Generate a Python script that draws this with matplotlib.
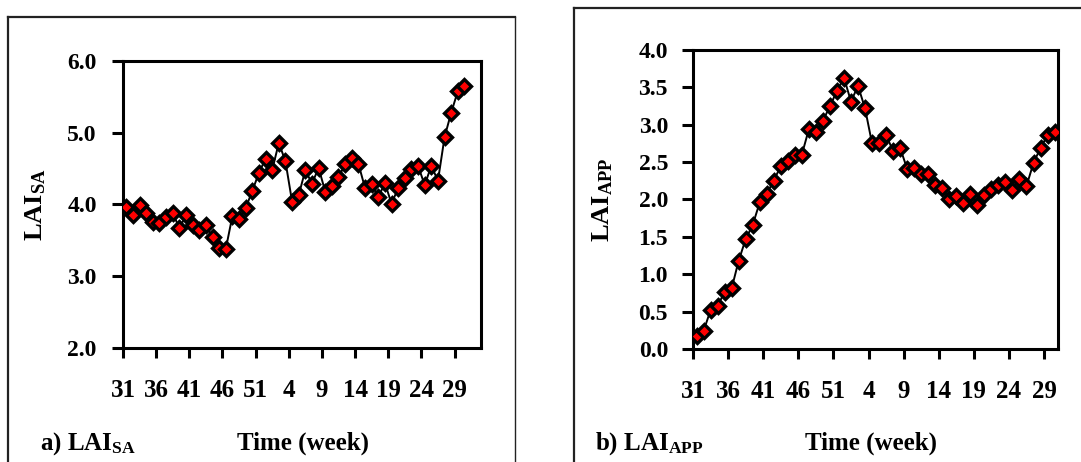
import numpy as np
import matplotlib
matplotlib.use('Agg')
import matplotlib.pyplot as plt
from matplotlib.lines import Line2D

plt.rcParams['font.family'] = ['Liberation Serif', 'DejaVu Serif']
plt.rcParams['font.weight'] = 'bold'
plt.rcParams['mathtext.fontset'] = 'custom'
plt.rcParams['mathtext.rm'] = 'Liberation Serif:bold'
plt.rcParams['mathtext.it'] = 'Liberation Serif:bold'
plt.rcParams['mathtext.bf'] = 'Liberation Serif:bold'

# weekly series, starting at week 31
lai_sa = [3.97, 3.85, 3.99, 3.88, 3.76, 3.74, 3.83, 3.88, 3.67, 3.85,
          3.71, 3.65, 3.71, 3.54, 3.40, 3.38, 3.84, 3.80, 3.95, 4.19,
          4.44, 4.64, 4.48, 4.86, 4.60, 4.04, 4.13, 4.48, 4.29, 4.51,
          4.18, 4.26, 4.38, 4.56, 4.65, 4.57, 4.23, 4.29, 4.10, 4.30,
          4.01, 4.23, 4.37, 4.50, 4.54, 4.27, 4.54, 4.33, 4.94, 5.28,
          5.58, 5.65]
lai_app = [0.17, 0.24, 0.52, 0.58, 0.76, 0.81, 1.18, 1.47, 1.66, 1.96,
           2.08, 2.25, 2.45, 2.52, 2.60, 2.60, 2.94, 2.90, 3.05, 3.25,
           3.45, 3.63, 3.31, 3.52, 3.22, 2.75, 2.75, 2.86, 2.65, 2.69,
           2.41, 2.42, 2.34, 2.34, 2.20, 2.16, 2.00, 2.05, 1.95, 2.08,
           1.93, 2.06, 2.14, 2.20, 2.24, 2.13, 2.27, 2.18, 2.49, 2.69,
           2.86, 2.90]
week_labels = ['31', '36', '41', '46', '51', '4', '9', '14', '19', '24', '29']
sa_yticks = [2.0, 3.0, 4.0, 5.0, 6.0]
app_yticks = [0.0, 0.5, 1.0, 1.5, 2.0, 2.5, 3.0, 3.5, 4.0]

fig = plt.figure(figsize=(10.81, 4.62), dpi=100)
ax1 = fig.add_axes([0.1138, 0.2468, 0.3312, 0.6212])
ax2 = fig.add_axes([0.6411, 0.2446, 0.3377, 0.6472])


def draw(ax, vals, yticks, ncat, ypad):
    x = np.arange(len(vals)) + 0.5
    ax.plot(x, vals, '-', color='black', lw=1.4, zorder=2)
    ax.plot(x, vals, 'D', ms=6.8, mfc='red', mec='black', mew=2.4, zorder=3)
    ax.set_xlim(0, ncat)
    ax.set_ylim(yticks[0], yticks[-1])
    ax.set_yticks(yticks)
    ax.set_yticklabels([f'{v:.1f}' for v in yticks], fontsize=17, fontweight='bold')
    ax.set_xticks(np.arange(0, 5 * len(week_labels), 5))
    ax.set_xticklabels(week_labels, fontsize=18, fontweight='bold')
    ax.tick_params(axis='y', direction='out', length=8, width=2.2, pad=ypad)
    ax.tick_params(axis='x', direction='out', length=7, width=2.2, pad=15)
    for s in ax.spines.values():
        s.set_linewidth(2.2)


draw(ax1, lai_sa, sa_yticks, 54, 11)
draw(ax2, lai_app, app_yticks, 52, 10)

fig.text(0.0333, 0.556, r'LAI$_{\mathrm{SA}}$', rotation=90, ha='center',
         va='center', fontsize=19, fontweight='bold')
fig.text(0.558, 0.567, r'LAI$_{\mathrm{APP}}$', rotation=90, ha='center',
         va='center', fontsize=19, fontweight='bold')

fig.text(0.037, 0.026, r'a) LAI$_{\mathrm{SA}}$', ha='left', va='baseline',
         fontsize=18, fontweight='bold')
fig.text(0.219, 0.026, 'Time (week)', ha='left', va='baseline',
         fontsize=18, fontweight='bold')
fig.text(0.5504, 0.026, r'b) LAI$_{\mathrm{APP}}$', ha='left', va='baseline',
         fontsize=18, fontweight='bold')
fig.text(0.745, 0.026, 'Time (week)', ha='left', va='baseline',
         fontsize=18, fontweight='bold')

# panel frames
def fline(xs, ys, lw):
    fig.add_artist(Line2D(xs, ys, transform=fig.transFigure, color='#222222', lw=lw))

y_top1 = 1 - 17 / 462
fline([8 / 1081, 8 / 1081], [0, y_top1], 1.6)
fline([8 / 1081, 515 / 1081], [y_top1, y_top1], 1.6)
fline([515 / 1081, 515 / 1081], [0, y_top1], 1.0)
y_top2 = 1 - 8 / 462
fline([574 / 1081, 574 / 1081], [0, y_top2], 1.6)
fline([574 / 1081, 1.0], [y_top2, y_top2], 1.6)

fig.savefig('out.png', dpi=100)
